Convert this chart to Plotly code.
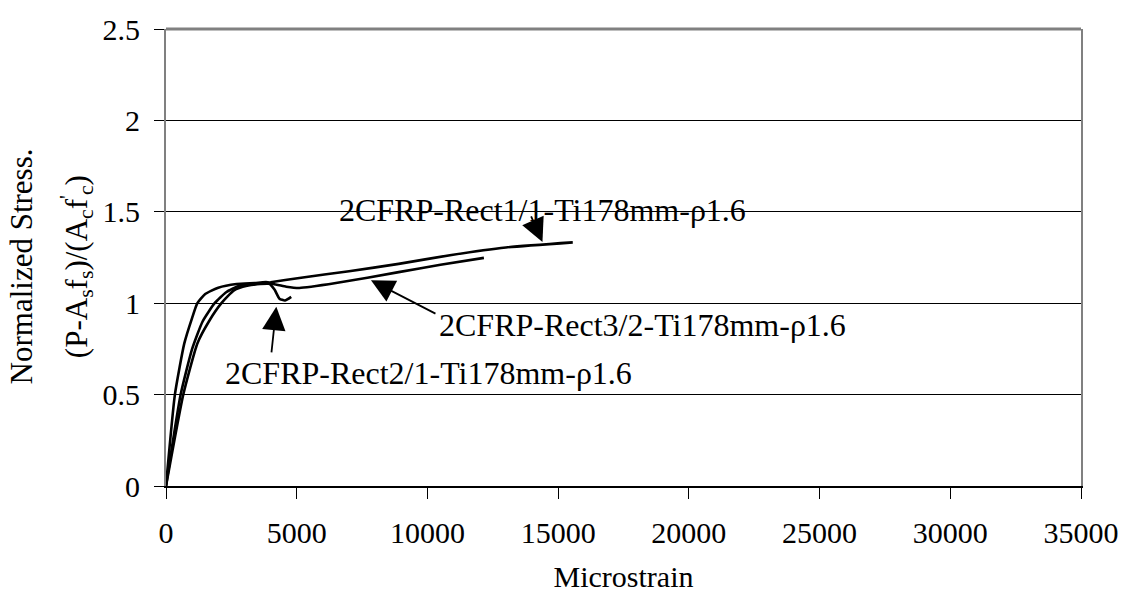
import plotly.graph_objects as go

# Data (microstrain, normalized stress)
rect11_x = [0, 560, 1000, 1400, 1860, 2300, 2800, 3400, 4000, 5100, 7000, 8900, 10920, 13000, 15560]
rect11_y = [0, 0.5, 0.75, 0.9, 1.0, 1.06, 1.095, 1.105, 1.115, 1.138, 1.175, 1.215, 1.264, 1.305, 1.333]

rect21_x = [0, 340, 700, 1000, 1200, 1500, 2000, 2700, 3400, 3880, 4150, 4340, 4550, 4790]
rect21_y = [0, 0.5, 0.78, 0.92, 1.0, 1.05, 1.085, 1.105, 1.11, 1.115, 1.075, 1.025, 1.015, 1.035]

rect32_x = [0, 660, 1200, 1640, 2120, 2600, 3100, 3600, 4100, 4600, 5100, 6500, 8900, 10500, 12160]
rect32_y = [0, 0.5, 0.78, 0.9, 1.0, 1.07, 1.095, 1.105, 1.105, 1.09, 1.083, 1.11, 1.17, 1.21, 1.248]

x_ticks = [0, 5000, 10000, 15000, 20000, 25000, 30000, 35000]
y_ticks = [0, 0.5, 1, 1.5, 2, 2.5]
y_tick_text = ["0", "0.5", "1", "1.5", "2", "2.5"]

label11 = "2CFRP-Rect1/1-Ti178mm-ρ1.6"
label21 = "2CFRP-Rect2/1-Ti178mm-ρ1.6"
label32 = "2CFRP-Rect3/2-Ti178mm-ρ1.6"
ytitle1 = "Normalized Stress."
ytitle2 = "(P-A<sub>s</sub>f<sub>s</sub>)/(A<sub>c</sub>f<sup>'</sup><sub>c</sub>)"

FONT = "Liberation Serif, Times New Roman, serif"

fig = go.Figure()
for xs, ys, nm in [(rect11_x, rect11_y, label11), (rect21_x, rect21_y, label21), (rect32_x, rect32_y, label32)]:
    fig.add_trace(go.Scatter(x=xs, y=ys, mode="lines", name=nm,
                             line=dict(color="black", width=2.6, shape="spline", smoothing=0.5),
                             showlegend=False))

fig.update_layout(
    width=1131, height=605,
    margin=dict(l=166, r=45, t=24, b=119),
    paper_bgcolor="white", plot_bgcolor="white",
    font=dict(family=FONT, size=30, color="black"),
    xaxis=dict(range=[0, 35000], tickvals=x_ticks, ticktext=[str(v) for v in x_ticks],
               showgrid=False, zeroline=False, showline=True, linecolor="black", linewidth=2,
               ticks="outside", ticklen=11, tickcolor="black", tickwidth=1,
               ticklabelstandoff=8,
               title=dict(text="Microstrain", font=dict(size=30), standoff=18)),
    yaxis=dict(range=[0, 2.5], tickvals=y_ticks, ticktext=y_tick_text,
               showgrid=True, gridcolor="black", gridwidth=1, zeroline=False,
               showline=True, linecolor="#808080", linewidth=2, mirror=True,
               ticks="outside", ticklen=10, tickcolor="black", tickwidth=1,
               ticklabelstandoff=8),
)

fig.add_shape(type="line", xref="paper", yref="paper", x0=0, x1=1, y0=1, y1=1,
              line=dict(color="#808080", width=3))

# y-axis title (two lines)
fig.add_annotation(x=-145/920, y=0.48, xref="paper", yref="paper", text=ytitle1, showarrow=False,
                   textangle=-90, xanchor="center", yanchor="middle", font=dict(size=31))
fig.add_annotation(x=-90/920, y=0.48, xref="paper", yref="paper", text=ytitle2, showarrow=False,
                   textangle=-90, xanchor="center", yanchor="middle", font=dict(size=31))

# arrows
for tx, ty, axp, ayp in [(14400, 1.335, -12, -27), (7840, 1.125, 66, 34), (4220, 0.98, -5, 47)]:
    fig.add_annotation(x=tx, y=ty, xref="x", yref="y", text="", showarrow=True,
                       ax=axp, ay=ayp, arrowhead=2, arrowsize=2.6, arrowwidth=1.8, arrowcolor="black")

# labels
fig.add_annotation(x=14400, y=1.511, xref="x", yref="y", text=label11, showarrow=False,
                   xanchor="center", yanchor="middle", font=dict(size=32))
fig.add_annotation(x=10350, y=0.883, xref="x", yref="y", text=label32, showarrow=False,
                   xanchor="left", yanchor="middle", font=dict(size=32))
fig.add_annotation(x=2170, y=0.618, xref="x", yref="y", text=label21, showarrow=False,
                   xanchor="left", yanchor="middle", font=dict(size=32))

fig.write_html("out.html")
